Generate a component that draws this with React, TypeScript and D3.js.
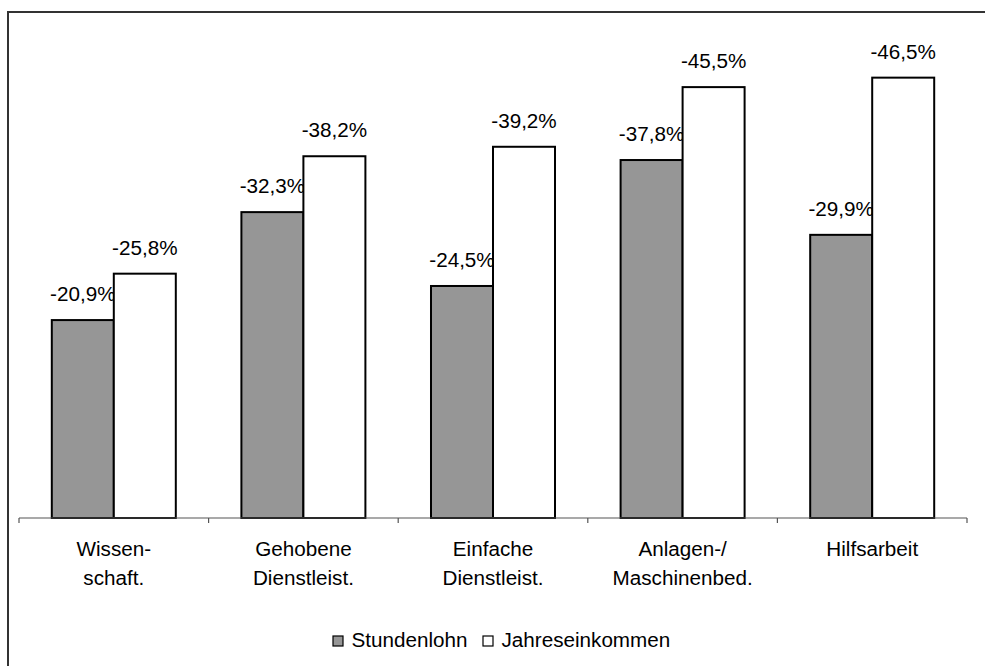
import React from "react";
import * as d3 from "d3";

const categories: string[][] = [
  ["Wissen-", "schaft."],
  ["Gehobene", "Dienstleist."],
  ["Einfache", "Dienstleist."],
  ["Anlagen-/", "Maschinenbed."],
  ["Hilfsarbeit"],
];
const seriesNames = ["Stundenlohn", "Jahreseinkommen"];
const stundenlohn = [-20.9, -32.3, -24.5, -37.8, -29.9];
const jahreseinkommen = [-25.8, -38.2, -39.2, -45.5, -46.5];
const yMax = 50;

const W = 985;
const H = 666;
const FONT = "'Liberation Sans', Arial, Helvetica, sans-serif";
const FS = 19.5;
const SX = 1.06;
const colors = ["#969696", "#ffffff"];

const fmt = (v: number) => v.toFixed(1).replace(".", ",") + "%";

export default function App() {
  const x0 = d3
    .scaleBand<number>()
    .domain(d3.range(categories.length))
    .range([19, 967])
    .padding(0);
  const x1 = d3
    .scaleBand<number>()
    .domain([0, 1])
    .range([0, x0.bandwidth()])
    .paddingInner(0)
    .paddingOuter(0.529);
  const y = d3.scaleLinear().domain([0, yMax]).range([518, 44.5]);
  const data = [stundenlohn, jahreseinkommen];

  const T = (
    x: number,
    yy: number,
    s: string,
    anchor: "middle" | "start" = "middle",
    key?: string
  ) => (
    <text
      key={key}
      transform={`translate(${x},${yy}) scale(${SX},1)`}
      textAnchor={anchor}
      fontFamily={FONT}
      fontSize={FS}
      fill="#000"
    >
      {s}
    </text>
  );

  const ticks = d3.range(categories.length + 1).map((i) =>
    i < categories.length ? (x0(i) as number) : 967
  );

  return (
    <svg
      width={W}
      height={H}
      style={{ position: "absolute", left: 0, top: 0, background: "#fff" }}
    >
      <rect x={0} y={0} width={W} height={H} fill="#fff" />
      <rect
        x={8}
        y={12}
        width={W + 10}
        height={H + 10}
        fill="none"
        stroke="#333"
        strokeWidth={2}
      />
      {data.map((vals, si) =>
        vals.map((v, ci) => {
          const bx = (x0(ci) as number) + (x1(si) as number);
          const bw = x1.bandwidth();
          const top = y(Math.abs(v));
          return (
            <g key={`b${si}-${ci}`}>
              <rect
                x={bx}
                y={top}
                width={bw}
                height={y(0) - top}
                fill={colors[si]}
                stroke="#000"
                strokeWidth={2}
              />
              {T(bx + bw / 2, top - 19, fmt(v))}
            </g>
          );
        })
      )}
      <line x1={19} x2={967} y1={518} y2={518} stroke="#555" strokeWidth={1.2} />
      {ticks.map((t, i) => (
        <line key={`t${i}`} x1={t} x2={t} y1={518} y2={523} stroke="#555" strokeWidth={1.2} />
      ))}
      {categories.map((lines, ci) => {
        const cx = (x0(ci) as number) + x0.bandwidth() / 2;
        return (
          <g key={`c${ci}`}>
            {lines.map((l, li) => T(cx, 556 + li * 29, l, "middle", `l${li}`))}
          </g>
        );
      })}
      <rect x={333} y={636} width={10} height={10} fill={colors[0]} stroke="#000" strokeWidth={1.2} />
      {T(351.5, 647, seriesNames[0], "start")}
      <rect x={483} y={636} width={10} height={10} fill={colors[1]} stroke="#000" strokeWidth={1.2} />
      {T(501.5, 647, seriesNames[1], "start")}
    </svg>
  );
}
